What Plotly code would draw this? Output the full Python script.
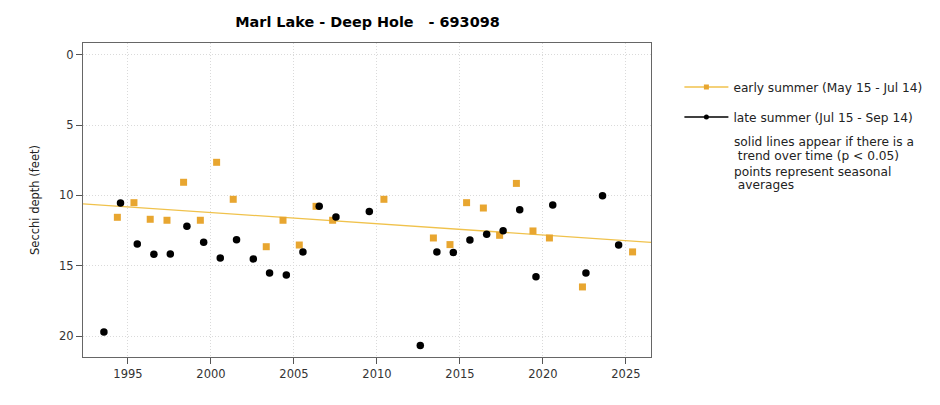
import plotly.graph_objects as go
import numpy as np

# ---- data ----
early_year = [1994.36, 1995.36, 1996.34, 1997.35, 1998.35, 1999.36, 2000.34, 2001.34,
              2003.33, 2004.34, 2005.32, 2006.33, 2007.33, 2010.42, 2013.40, 2014.40,
              2015.40, 2016.41, 2017.39, 2018.40, 2019.40, 2020.39, 2022.38, 2025.40]
early_depth = [11.56, 10.52, 11.70, 11.77, 9.07, 11.77, 7.65, 10.28,
               13.65, 11.77, 13.53, 10.78, 11.77, 10.28, 13.03, 13.50,
               10.52, 10.90, 12.84, 9.15, 12.53, 13.03, 16.51, 14.02]

late_year = [1993.55, 1994.55, 1995.56, 1996.56, 1997.55, 1998.55, 1999.56, 2000.56,
             2001.54, 2002.55, 2003.53, 2004.54, 2005.54, 2006.52, 2007.53, 2009.54,
             2012.61, 2013.61, 2014.60, 2015.60, 2016.61, 2017.60, 2018.60, 2019.58,
             2020.59, 2022.59, 2023.59, 2024.56]
late_depth = [19.71, 10.54, 13.46, 14.19, 14.17, 12.20, 13.34, 14.45,
              13.15, 14.52, 15.52, 15.66, 14.02, 10.78, 11.54, 11.14,
              20.68, 14.02, 14.07, 13.17, 12.77, 12.51, 11.02, 15.78,
              10.68, 15.52, 10.02, 13.53]

# early-summer trend (depth = trend_at_ref + slope * (year - trend_ref_year))
trend_ref_year = 2010.0
trend_at_ref = 12.02
trend_slope = 0.0798

x_range = [1992.29, 2026.51]
y_range = [21.49, -0.83]
x_ticks = [1995, 2000, 2005, 2010, 2015, 2020, 2025]
y_ticks = [0, 5, 10, 15, 20]

title_text = "Marl Lake - Deep Hole\u00a0\u00a0\u00a0- 693098"
legend_early = "early summer (May 15 - Jul 14)"
legend_late = "late summer (Jul 15 - Sep 14)"
note_lines = ["solid lines appear if there is a",
              "\u00a0trend over time (p < 0.05)",
              "points represent seasonal",
              "\u00a0averages"]

ORANGE = "#E8A630"
ORANGE_LINE = "#F0C24C"
FONT = "DejaVu Sans"

fig = go.Figure()

tx = np.array(x_range)
ty = trend_at_ref + trend_slope * (tx - trend_ref_year)
fig.add_trace(go.Scatter(x=tx, y=ty, mode="lines", line=dict(color=ORANGE_LINE, width=1.3),
                         showlegend=False, hoverinfo="skip"))

fig.add_trace(go.Scatter(x=early_year, y=early_depth, mode="markers",
                         marker=dict(symbol="square", size=7, color=ORANGE),
                         showlegend=False))
fig.add_trace(go.Scatter(x=late_year, y=late_depth, mode="markers",
                         marker=dict(symbol="circle", size=7.5, color="black"),
                         showlegend=False))

# legend entries
fig.add_trace(go.Scatter(x=[None], y=[None], mode="lines+markers", name=legend_early,
                         line=dict(color=ORANGE_LINE, width=1.5),
                         marker=dict(symbol="square", size=5, color=ORANGE),
                         legendgroup="a"))
fig.add_trace(go.Scatter(x=[None], y=[None], mode="lines+markers", name=legend_late,
                         line=dict(color="black", width=1.5),
                         marker=dict(symbol="circle", size=5, color="black"),
                         legendgroup="b"))

note_y = [0.6857, 0.640, 0.590, 0.548]
for line, yy in zip(note_lines, note_y):
    fig.add_annotation(text=line, xref="paper", yref="paper",
                       x=1.142, y=yy, xanchor="left", yanchor="middle", align="left",
                       showarrow=False, font=dict(family=FONT, size=12.2, color="#222"))

axis_common = dict(showline=True, mirror=True, linecolor="#666", linewidth=1.3,
                   ticks="outside", ticklen=6, tickcolor="#555", tickwidth=1.2,
                   showgrid=True, gridcolor="#dadada", griddash="1px,2px", gridwidth=1,
                   zeroline=False, automargin=False,
                   tickfont=dict(family=FONT, size=11.5, color="#333"))

fig.update_layout(
    width=940, height=405,
    margin=dict(l=75, r=297, t=35, b=56),
    paper_bgcolor="white", plot_bgcolor="white",
    title=dict(text="<b>" + title_text + "</b>", x=359.5 / 940, xanchor="center",
               y=1 - 14 / 405, yanchor="middle",
               font=dict(family=FONT, size=14.4, color="black")),
    xaxis=dict(range=x_range, tickvals=x_ticks, **axis_common),
    yaxis=dict(range=y_range, tickvals=y_ticks,
               title=dict(text="Secchi depth (feet)", standoff=16,
                          font=dict(family=FONT, size=11.5, color="#222")),
               **axis_common),
    legend=dict(x=1.050, y=0.906, xanchor="left", yanchor="top", tracegroupgap=11,
                itemwidth=44,
                font=dict(family=FONT, size=12.2, color="#222"), bgcolor="rgba(0,0,0,0)"),
    showlegend=True,
)

fig.write_html("out.html")
